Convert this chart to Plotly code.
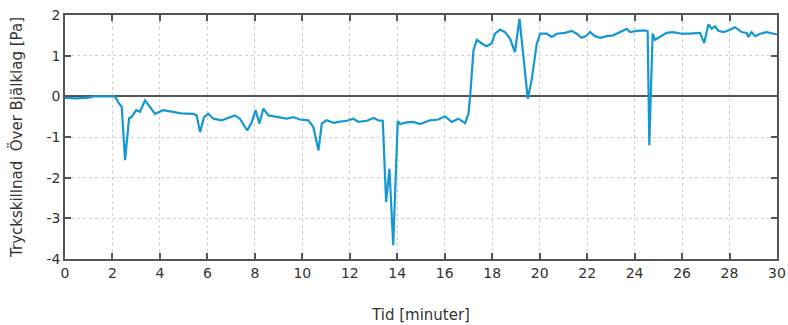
import plotly.graph_objects as go

time_min = [0.0, 0.5, 1.0, 1.2, 2.0, 2.1, 2.24, 2.39, 2.53, 2.7, 2.8, 3.0, 3.16, 3.37, 3.58, 3.79,
            4.14, 4.57, 4.89, 5.41, 5.55, 5.69, 5.86, 6.04, 6.25, 6.6, 6.95, 7.16, 7.37, 7.68,
            7.87, 8.03, 8.19, 8.36, 8.57, 8.92, 9.34, 9.62, 9.9, 10.25, 10.46, 10.68, 10.82,
            11.02, 11.31, 11.59, 11.87, 12.15, 12.37, 12.72, 13.0, 13.2, 13.39, 13.53, 13.67,
            13.83, 14.02, 14.12, 14.4, 14.68, 14.96, 15.38, 15.73, 16.01, 16.29, 16.57, 16.86,
            17.0, 17.07, 17.21, 17.35, 17.56, 17.77, 17.98, 18.12, 18.33, 18.54, 18.75, 18.96,
            19.15, 19.31, 19.5, 19.67, 19.88, 20.02, 20.3, 20.51, 20.72, 21.07, 21.35, 21.56,
            21.77, 21.95, 22.12, 22.33, 22.55, 22.83, 23.1, 23.39, 23.67, 23.81, 24.09, 24.44,
            24.55, 24.62, 24.76, 24.86, 25.07, 25.35, 25.63, 25.98, 26.33, 26.76, 26.93, 27.11,
            27.25, 27.39, 27.53, 27.74, 27.95, 28.23, 28.51, 28.72, 28.79, 28.93, 29.08, 29.29,
            29.57, 30.0]
pressure_pa = [-0.04, -0.05, -0.03, 0.0, 0.0, 0.0, -0.14, -0.26, -1.57, -0.54, -0.51, -0.34, -0.38,
               -0.1, -0.26, -0.43, -0.34, -0.38, -0.42, -0.43, -0.47, -0.88, -0.51, -0.43, -0.55,
               -0.59, -0.52, -0.47, -0.55, -0.84, -0.63, -0.34, -0.67, -0.3, -0.47, -0.51, -0.55,
               -0.51, -0.57, -0.59, -0.75, -1.33, -0.67, -0.59, -0.65, -0.62, -0.6, -0.55, -0.63,
               -0.6, -0.53, -0.59, -0.6, -2.6, -1.78, -3.66, -0.61, -0.68, -0.64, -0.63, -0.68,
               -0.59, -0.57, -0.49, -0.63, -0.55, -0.66, -0.43, 0.0, 1.13, 1.39, 1.3, 1.23, 1.3,
               1.54, 1.64, 1.58, 1.42, 1.09, 1.91, 1.05, -0.06, 0.43, 1.3, 1.54, 1.54, 1.46, 1.54,
               1.56, 1.61, 1.54, 1.44, 1.48, 1.58, 1.48, 1.44, 1.48, 1.5, 1.58, 1.66, 1.58, 1.61,
               1.62, 1.6, -1.2, 1.54, 1.39, 1.46, 1.56, 1.58, 1.54, 1.54, 1.56, 1.31, 1.77, 1.66,
               1.72, 1.61, 1.58, 1.62, 1.7, 1.58, 1.56, 1.46, 1.58, 1.48, 1.54, 1.58, 1.52]

x_ticks = list(range(0, 31, 2))
y_ticks = list(range(-4, 3, 1))

font_family = "DejaVu Sans"
axis_color = "#555555"

fig = go.Figure()
fig.add_trace(go.Scatter(
    x=time_min, y=pressure_pa, mode="lines",
    line=dict(color="#1597d1", width=2.2),
    showlegend=False,
))

fig.update_layout(
    width=788, height=325,
    margin=dict(l=65, r=11, t=15, b=66),
    paper_bgcolor="white", plot_bgcolor="white",
    font=dict(family=font_family, size=13, color="#333333"),
)
fig.update_xaxes(
    range=[0, 30], tickvals=x_ticks, ticktext=[str(v) for v in x_ticks],
    ticks="inside", ticklen=6, tickcolor=axis_color, tickwidth=1.5,
    showline=True, linecolor=axis_color, linewidth=1.5, mirror="allticks",
    showgrid=True, gridcolor="#d0d0d0", griddash="dot", gridwidth=1,
    zeroline=False, automargin=False,
    title=dict(text="Tid [minuter]", font=dict(size=15), standoff=30),
    tickfont=dict(size=14),
)
fig.update_yaxes(
    range=[-4, 2], tickvals=y_ticks, ticktext=[str(v) for v in y_ticks],
    ticks="inside", ticklen=6, tickcolor=axis_color, tickwidth=1.5,
    showline=True, linecolor=axis_color, linewidth=1.5, mirror="allticks",
    showgrid=True, gridcolor="#d0d0d0", griddash="dot", gridwidth=1,
    zeroline=True, zerolinecolor="#555555", zerolinewidth=2,
    automargin=False,
    title=dict(text="Tryckskillnad  Över Bjälklag [Pa]", font=dict(size=15), standoff=20),
    tickfont=dict(size=14),
)

fig.write_html(
    "out.html",
    config={"displayModeBar": False},
    post_script="document.body.style.margin='0';document.body.style.overflow='hidden';",
)
